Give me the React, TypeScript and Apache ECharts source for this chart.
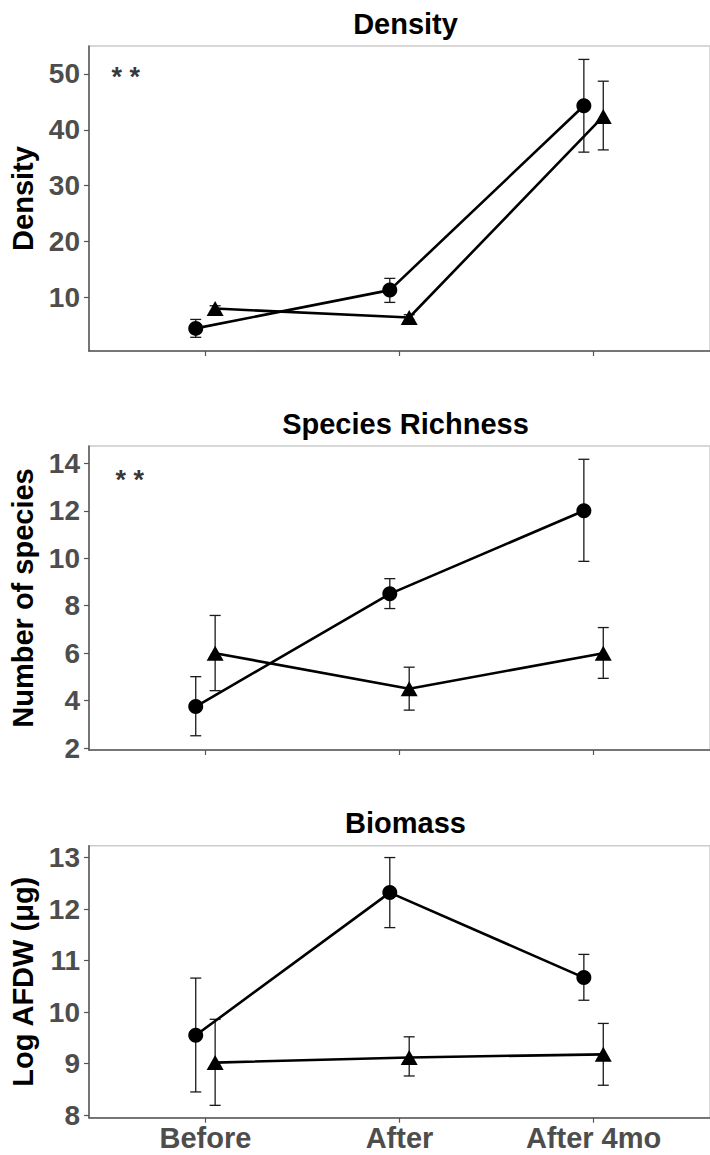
import React, { useEffect, useRef } from "react";
import * as echarts from "echarts";

const FONT = "'Liberation Sans', Arial, Helvetica, sans-serif";

const categories = ["Before", "After", "After 4mo"];

// Density
const densityCircle = [4.45, 11.3, 44.3];
const densityCircleLo = [2.85, 9.1, 36.0];
const densityCircleHi = [6.05, 13.4, 52.6];
const densityTriangle = [8.0, 6.4, 42.4];
const densityTriangleLo = [7.5, 5.9, 36.4];
const densityTriangleHi = [8.5, 6.9, 48.7];

// Species richness
const richCircle = [3.75, 8.5, 12.0];
const richCircleLo = [2.52, 7.88, 9.87];
const richCircleHi = [5.01, 9.14, 14.17];
const richTriangle = [6.0, 4.5, 6.0];
const richTriangleLo = [4.42, 3.6, 4.94];
const richTriangleHi = [7.59, 5.41, 7.08];

// Biomass
const bioCircle = [9.55, 12.32, 10.67];
const bioCircleLo = [8.45, 11.64, 10.23];
const bioCircleHi = [10.66, 13.0, 11.12];
const bioTriangle = [9.02, 9.12, 9.18];
const bioTriangleLo = [8.19, 8.76, 8.58];
const bioTriangleHi = [9.86, 9.52, 9.78];

const densityTicks = [10, 20, 30, 40, 50];
const richTicks = [2, 4, 6, 8, 10, 12, 14];
const bioTicks = [8, 9, 10, 11, 12, 13];

const DODGE = 0.05;

type Panel = {
  title: string;
  yName: string;
  yMin: number;
  yMax: number;
  ticks: number[];
  circle: number[];
  circleLo: number[];
  circleHi: number[];
  tri: number[];
  triLo: number[];
  triHi: number[];
  star: [number, number] | null;
  top: number;
  height: number;
  showX: boolean;
};

const panels: Panel[] = [
  {
    title: "Density", yName: "Density", yMin: 0.4, yMax: 55, ticks: densityTicks,
    circle: densityCircle, circleLo: densityCircleLo, circleHi: densityCircleHi,
    tri: densityTriangle, triLo: densityTriangleLo, triHi: densityTriangleHi,
    star: [0.59, 49.4], top: 46, height: 305, showX: false,
  },
  {
    title: "Species Richness", yName: "Number of species", yMin: 1.92, yMax: 14.73, ticks: richTicks,
    circle: richCircle, circleLo: richCircleLo, circleHi: richCircleHi,
    tri: richTriangle, triLo: richTriangleLo, triHi: richTriangleHi,
    star: [0.61, 13.3], top: 446, height: 304, showX: false,
  },
  {
    title: "Biomass", yName: "Log AFDW (\u03bcg)", yMin: 7.95, yMax: 13.23, ticks: bioTicks,
    circle: bioCircle, circleLo: bioCircleLo, circleHi: bioCircleHi,
    tri: bioTriangle, triLo: bioTriangleLo, triHi: bioTriangleHi,
    star: null, top: 845.7, height: 272, showX: true,
  },
];

function errorRender(params: any, api: any) {
  const x = api.value(0);
  const lo = api.coord([x, api.value(1)]);
  const hi = api.coord([x, api.value(2)]);
  const cap = 5.5;
  const style = { stroke: "#1a1a1a", lineWidth: 1.3 };
  return {
    type: "group",
    children: [
      { type: "line", shape: { x1: lo[0], y1: lo[1], x2: hi[0], y2: hi[1] }, style },
      { type: "line", shape: { x1: lo[0] - cap, y1: lo[1], x2: lo[0] + cap, y2: lo[1] }, style },
      { type: "line", shape: { x1: hi[0] - cap, y1: hi[1], x2: hi[0] + cap, y2: hi[1] }, style },
    ],
  };
}

function buildOption() {
  const grid: any[] = [];
  const xAxis: any[] = [];
  const yAxis: any[] = [];
  const series: any[] = [];
  const title: any[] = [];

  panels.forEach((p, i) => {
    grid.push({
      left: 88, top: p.top, width: 625.6, height: p.height,
      show: true, borderColor: "#cccccc", borderWidth: 1.5, backgroundColor: "transparent",
    });
    title.push({
      text: p.title, left: 400.5, top: p.top - 42, textAlign: "center",
      textStyle: { fontFamily: FONT, fontSize: 29, fontWeight: "bold", color: "#000" },
    });
    xAxis.push({
      type: "value", gridIndex: i, min: 0.4, max: 3.6,
      splitLine: { show: false },
      axisLine: { show: true, onZero: false, lineStyle: { color: "#555555", width: 1.5 } },
      axisTick: { show: true, customValues: [1, 2, 3], length: 5, lineStyle: { color: "#555555", width: 1.2 } },
      axisLabel: {
        show: p.showX, customValues: [1, 2, 3], margin: 6,
        formatter: (v: number) => categories[Math.round(v) - 1] ?? "",
        fontFamily: FONT, fontSize: 29, fontWeight: "bold", color: "#4D4D4D",
      },
    });
    yAxis.push({
      type: "value", gridIndex: i, min: p.yMin, max: p.yMax,
      name: p.yName, nameLocation: "middle", nameGap: 52,
      nameTextStyle: { fontFamily: FONT, fontSize: 29, fontWeight: "bold", color: "#000" },
      splitLine: { show: false },
      axisLine: { show: true, onZero: false, lineStyle: { color: "#555555", width: 1.5 } },
      axisTick: { show: true, customValues: p.ticks, length: 5, lineStyle: { color: "#555555", width: 1.2 } },
      axisLabel: {
        customValues: p.ticks, margin: 9,
        fontFamily: FONT, fontSize: 28, fontWeight: "bold", color: "#4D4D4D",
      },
    });

    const cErr = p.circle.map((_, k) => [k + 1 - DODGE, p.circleLo[k], p.circleHi[k]]);
    const tErr = p.tri.map((_, k) => [k + 1 + DODGE, p.triLo[k], p.triHi[k]]);
    series.push({
      type: "custom", xAxisIndex: i, yAxisIndex: i, z: 1,
      renderItem: errorRender, data: cErr, encode: { x: 0, y: [1, 2] }, silent: true,
    });
    series.push({
      type: "custom", xAxisIndex: i, yAxisIndex: i, z: 1,
      renderItem: errorRender, data: tErr, encode: { x: 0, y: [1, 2] }, silent: true,
    });
    series.push({
      type: "line", xAxisIndex: i, yAxisIndex: i, z: 3,
      data: p.circle.map((v, k) => [k + 1 - DODGE, v]),
      symbol: "circle", symbolSize: 15, showSymbol: true,
      lineStyle: { color: "#000", width: 2.6 }, itemStyle: { color: "#000", borderWidth: 0 },
    });
    series.push({
      type: "line", xAxisIndex: i, yAxisIndex: i, z: 3,
      data: p.tri.map((v, k) => [k + 1 + DODGE, v]),
      symbol: "triangle", symbolSize: [17, 15], showSymbol: true,
      lineStyle: { color: "#000", width: 2.6 }, itemStyle: { color: "#000", borderWidth: 0 },
    });
    if (p.star) {
      series.push({
        type: "scatter", xAxisIndex: i, yAxisIndex: i, z: 4,
        data: [p.star], symbolSize: 1, itemStyle: { color: "rgba(0,0,0,0)" },
        label: {
          show: true, position: "inside", formatter: "* *",
          fontFamily: FONT, fontSize: 27, fontWeight: "bold", color: "#000",
        },
      });
    }
  });

  return { animation: false, backgroundColor: "#ffffff", grid, xAxis, yAxis, series, title };
}

export default function App() {
  const ref = useRef<HTMLDivElement>(null);
  useEffect(() => {
    if (!ref.current) return;
    const chart = echarts.init(ref.current, undefined, { renderer: "svg" });
    chart.setOption(buildOption() as any);
    return () => chart.dispose();
  }, []);
  return (
    <div
      ref={ref}
      style={{ position: "absolute", left: 0, top: 0, width: 710, height: 1155, background: "#fff" }}
    />
  );
}
